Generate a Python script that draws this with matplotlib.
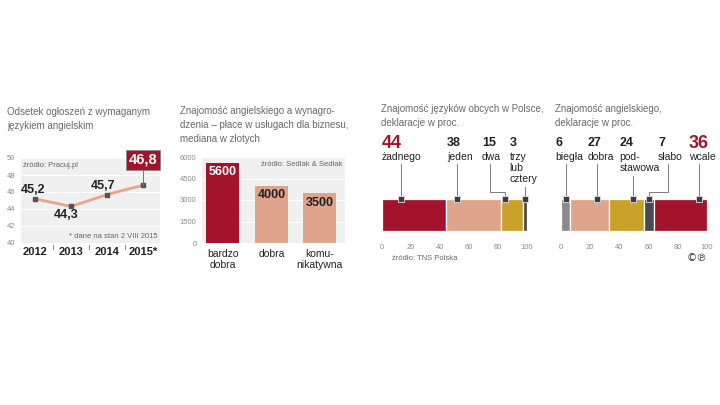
"""
Infographic: English language knowledge in Poland (four panels).
"""
import matplotlib
matplotlib.use("Agg")
import matplotlib.pyplot as plt

# ── Data ─────────────────────────────────────────────────────────────────────
years = ["2012", "2013", "2014", "2015*"]
ad_share = [45.2, 44.3, 45.7, 46.8]

wage_levels = ["bardzo\ndobra", "dobra", "komu-\nnikatywna"]
wage_median = [5600, 4000, 3500]

lang_labels = ["żadnego", "jeden", "dwa", "trzy\nlub\ncztery"]
lang_values = [44, 38, 15, 3]

eng_labels = ["biegła", "dobra", "pod-\nstawowa", "słabo", "wcale"]
eng_values = [6, 27, 24, 7, 36]

# ── Style ────────────────────────────────────────────────────────────────────
W, H = 720, 405
RED = "#a3132b"
SALMON = "#dfa48c"
MUSTARD = "#c7a128"
GREY = "#8b8b8d"
DARK = "#4a4a4d"
BG = "#f0f0f0"
TXT = "#222222"
MUTED = "#8a8a8a"
SRC = "#666666"

plt.rcParams["font.family"] = ["Liberation Sans", "DejaVu Sans"]


def px_axes(fig, x0, y0, x1, y1):
    """Axes from pixel box (top-left origin)."""
    return fig.add_axes([x0 / W, 1 - y1 / H, (x1 - x0) / W, (y1 - y0) / H])


def ftext(fig, x, y, s, **kw):
    fig.text(x / W, 1 - y / H, s, **kw)


def clean(ax):
    for sp in ax.spines.values():
        sp.set_visible(False)
    ax.tick_params(length=0, colors=MUTED, labelsize=5.5)


fig = plt.figure(figsize=(W / 100, H / 100), dpi=100)
fig.patch.set_facecolor("white")

title_kw = dict(fontsize=7, color="#6a6a6a", va="center", ha="left", linespacing=1.45)

# ── Panel 1: line chart ──────────────────────────────────────────────────────
ftext(fig, 7, 119, "Odsetek ogłoszeń z wymaganym\njęzykiem angielskim", **title_kw)
ax1 = px_axes(fig, 21, 158, 160, 243)
clean(ax1)
ax1.set_facecolor(BG)
ax1.set_xlim(-0.39, 3.47)
ax1.set_ylim(40, 50)
ax1.set_yticks(range(40, 51, 2))
ax1.tick_params(axis="y", pad=4)
ax1.set_xticks(range(len(years)))
ax1.set_xticklabels(years, fontsize=8, fontweight="bold", color=TXT)
ax1.tick_params(axis="x", pad=3)
ax1.grid(axis="y", color="white", linewidth=0.8)
ax1.set_axisbelow(True)
x1 = list(range(len(years)))
ax1.plot(x1, ad_share, color="#e9a58b", linewidth=2, zorder=3)
ax1.scatter(x1, ad_share, s=5, marker="s", color="#555555", zorder=4)
for i in range(len(years) - 1):
    ax1.plot([i + 0.5, i + 0.5], [39.8, 39.3], color="#777777", linewidth=0.6, clip_on=False)
offsets = [(-0.05, 1.0), (-0.15, -0.95), (-0.12, 1.05)]
for i, (dx, dy) in enumerate(offsets):
    ax1.text(x1[i] + dx, ad_share[i] + dy, f"{ad_share[i]:.1f}".replace(".", ","),
             ha="center", va="center", fontsize=9, fontweight="bold", color=TXT, zorder=5)
last = len(years) - 1
ax1.plot([x1[last], x1[last]], [ad_share[last], 48.9], color="#777777", linewidth=0.7, zorder=4)
ax1.text(x1[last], 49.8, f"{ad_share[last]:.1f}".replace(".", ","), ha="center", va="center",
         fontsize=10.5, fontweight="bold", color="white", zorder=6, clip_on=False,
         bbox=dict(boxstyle="square,pad=0.2", facecolor=RED, edgecolor="#888888", linewidth=0.6))
ax1.text(-0.33, 49.1, "źródło: Pracuj.pl", fontsize=5.5, color=SRC, va="center")
ax1.text(3.4, 40.8, "* dane na stan 2 VIII 2015", fontsize=5.5, color=SRC,
         va="center", ha="right")

# ── Panel 2: bar chart ───────────────────────────────────────────────────────
ftext(fig, 180, 125, "Znajomość angielskiego a wynagro-\ndzenia – płace w usługach dla biznesu,\nmediana w złotych",
      **title_kw)
ax2 = px_axes(fig, 202, 157, 345, 243)
clean(ax2)
ax2.set_facecolor(BG)
ax2.set_xlim(-0.43, 2.52)
ax2.set_ylim(0, 6000)
ax2.set_yticks(range(0, 6001, 1500))
ax2.tick_params(axis="y", pad=4)
ax2.grid(axis="y", color="white", linewidth=0.8)
ax2.set_axisbelow(True)
x2 = list(range(len(wage_levels)))
ax2.bar(x2, wage_median, width=0.68, color=[RED, SALMON, SALMON], zorder=3)
ax2.set_xticks(x2)
ax2.set_xticklabels(wage_levels, fontsize=7.5, color=TXT, linespacing=1.15)
ax2.tick_params(axis="x", pad=4)
for i, v in enumerate(wage_median):
    ax2.text(x2[i], v - 680, f"{v}", ha="center", va="center", fontsize=9,
             fontweight="bold", color="white" if i == 0 else TXT, zorder=4)
ax2.text(2.47, 5450, "źródło: Sedlak & Sedlak", fontsize=5.5, color=SRC,
         ha="right", va="center")


# ── Stacked bars (panels 3 and 4) ────────────────────────────────────────────
def stacked(ax, values, colors, labels, label_x, anchor_frac, big, elbows):
    clean(ax)
    ax.set_xlim(0, 100)
    ax.set_ylim(231, 135)
    left = 0
    starts = []
    for v, c in zip(values, colors):
        ax.barh(215, v, left=left, height=32, color=c, edgecolor="white", linewidth=0.9, zorder=2)
        starts.append(left)
        left += v
    ax.set_yticks([])
    ax.set_xticks(range(0, 101, 20))
    ax.tick_params(axis="x", pad=9)
    for i, v in enumerate(values):
        lx = label_x[i]
        ax.text(lx, 143, f"{v}", fontsize=13 if i == big else 9, fontweight="bold",
                color=RED if i == big else TXT, ha="left", va="center", clip_on=False)
        ax.text(lx, 152, labels[i], fontsize=7.5, color=TXT, ha="left", va="top",
                linespacing=1.1, clip_on=False)
        n_lines = labels[i].count("\n") + 1
        top = 164 + (n_lines - 1) * 11.5
        ax_x = starts[i] + anchor_frac[i] * v
        if i in elbows:
            ex = elbows[i]
            ax.plot([ex, ex, ax_x, ax_x], [top, 192, 192, 199], color="#666666",
                    linewidth=0.6, zorder=3, clip_on=False)
        else:
            ax.plot([ax_x, ax_x], [top, 199], color="#666666", linewidth=0.6, zorder=3,
                    clip_on=False)
        ax.scatter([ax_x], [199], s=14, marker="s", color="#3d3d40", edgecolor="#dddddd",
                   linewidth=0.6, zorder=4, clip_on=False)


ftext(fig, 381, 116, "Znajomość języków obcych w Polsce,\ndeklaracje w proc.", **title_kw)
ax3 = px_axes(fig, 382, 135, 527, 231)
stacked(ax3, lang_values, [RED, SALMON, MUSTARD, DARK], lang_labels,
        label_x=[0, 45, 69, 88], anchor_frac=[0.3, 0.2, 0.2, 0.55], big=0,
        elbows={2: 74.5})
ftext(fig, 392, 258, "źródło: TNS Polska", fontsize=5.5, color=SRC, va="center")

ftext(fig, 555, 116, "Znajomość angielskiego,\ndeklaracje w proc.", **title_kw)
ax4 = px_axes(fig, 561, 135, 707, 231)
stacked(ax4, eng_values, [GREY, SALMON, MUSTARD, DARK, RED], eng_labels,
        label_x=[-4, 18.5, 40, 66.5, 87.5], anchor_frac=[0.55, 0.69, 0.67, 0.47, 0.85], big=4,
        elbows={3: 73.5})
ftext(fig, 707, 258, "©℗", fontsize=7.5, color="#333333", ha="right", va="center",
      family="DejaVu Sans")

fig.savefig("out.png", dpi=100)
